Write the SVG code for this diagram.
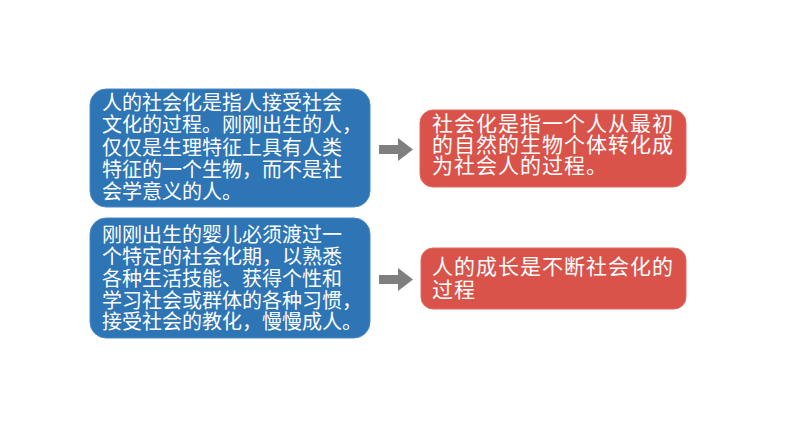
<svg xmlns="http://www.w3.org/2000/svg" width="794" height="447" viewBox="0 0 794 447">
<style>
.blue{fill:#2E75B6;stroke:#4A8AC6;stroke-width:1}
.red{fill:#D9534A;stroke:#E06A60;stroke-width:1}
.t{font-family:"Liberation Sans","Noto Sans CJK SC",sans-serif;fill:#fff}
.tb{font-size:20px}
.tr{font-size:21px;letter-spacing:1px}
.arr{fill:#7F7F7F}
</style>
<rect width="794" height="447" fill="#fff"/>
<g id="node-blue1">
<rect class="blue" x="90" y="89" width="280" height="118" rx="16"/>
<text class="t tb"><tspan x="102" y="110">人的社会化是指人接受社会</tspan><tspan x="102" y="132">文化的过程。刚刚出生的人，</tspan><tspan x="102" y="154.5">仅仅是生理特征上具有人类</tspan><tspan x="102" y="177">特征的一个生物，而不是社</tspan><tspan x="102" y="199">会学意义的人。</tspan></text>
</g>
<g id="node-blue2">
<rect class="blue" x="90" y="218" width="280" height="120" rx="16"/>
<text class="t tb"><tspan x="102" y="242">刚刚出生的婴儿必须渡过一</tspan><tspan x="102" y="264">个特定的社会化期，以熟悉</tspan><tspan x="102" y="286">各种生活技能、获得个性和</tspan><tspan x="102" y="307.5">学习社会或群体的各种习惯，</tspan><tspan x="102" y="329">接受社会的教化，慢慢成人。</tspan></text>
</g>
<g id="node-red1">
<rect class="red" x="420" y="110" width="266" height="77" rx="13"/>
<text class="t tr"><tspan x="432" y="131">社会化是指一个人从最初</tspan><tspan x="432" y="152">的自然的生物个体转化成</tspan><tspan x="432" y="173">为社会人的过程。</tspan></text>
</g>
<g id="node-red2">
<rect class="red" x="421" y="248" width="265" height="61" rx="12"/>
<text class="t tr"><tspan x="432" y="274">人的成长是不断社会化的</tspan><tspan x="432" y="297">过程</tspan></text>
</g>
<g id="connectors">
<polygon class="arr" points="379,145 398,145 398,138 413,149.5 398,161 398,154 379,154"/>
<polygon class="arr" points="379,275 398,275 398,268 413,279.5 398,291 398,284 379,284"/>
</g>
</svg>
